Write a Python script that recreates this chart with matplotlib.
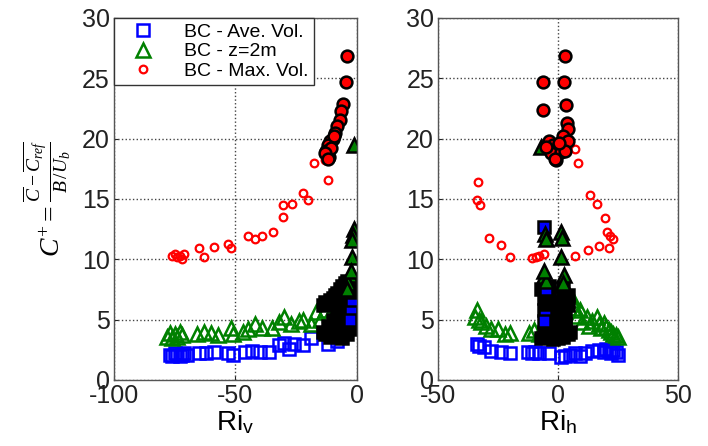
import matplotlib.pyplot as plt

plt.rcParams['font.family'] = ['Liberation Sans', 'DejaVu Sans']
plt.rcParams['axes.unicode_minus'] = False
plt.rcParams['mathtext.fontset'] = 'custom'
plt.rcParams['mathtext.rm'] = 'Liberation Serif'
plt.rcParams['mathtext.it'] = 'Liberation Serif:italic'
plt.rcParams['mathtext.sf'] = 'Liberation Sans'

# ---- Ri_v panel ----
v_ave_x = [-77, -76, -75, -74, -73, -72, -71, -70, -65, -62, -59, -53, -51, -46, -43, -40,
           -36, -32, -30, -28, -26, -22, -19, -12, -8]
v_ave_y = [2.1, 2.0, 2.2, 2.1, 2.0, 2.1, 2.2, 2.1, 2.2, 2.2, 2.3, 2.2, 2.1, 2.3, 2.4, 2.3,
           2.3, 2.9, 3.1, 2.6, 3.0, 2.9, 3.5, 3.0, 3.2]
v_z2_x = [-78, -77, -76, -75, -74, -73, -72, -66, -63, -60, -57, -52, -51, -47, -45, -42,
          -39, -35, -32, -30, -27, -24, -22, -19, -17, -15, -13, -11]
v_z2_y = [3.6, 3.9, 3.5, 3.8, 3.6, 4.0, 3.7, 3.8, 4.0, 3.9, 3.7, 4.3, 3.8, 4.0, 4.2, 4.6,
          4.3, 4.3, 4.8, 5.2, 4.6, 4.9, 5.0, 4.6, 5.6, 5.0, 5.8, 5.5]
v_max_x = [-76, -75, -74, -73, -72, -71, -65, -63, -59, -53, -52, -45, -42, -39, -34.5,
           -30.5, -30.5, -26.5, -22, -20, -17.5, -13, -12, -11, -9, -8, -7, -6]
v_max_y = [10.3, 10.4, 10.2, 10.3, 10.0, 10.4, 10.9, 10.2, 11.0, 11.3, 10.9, 11.9, 11.7,
           11.9, 12.3, 13.5, 14.5, 14.6, 15.5, 14.9, 18.0, 18.2, 16.6, 19.5, 20.3, 21.2,
           22.0, 22.6]
v_max_hx = [-4.2, -4.5, -5.8, -6.5, -7, -8, -9, -10, -11, -12, -12.5, -11.5, -10.5, -9.5,
            -13, -12]
v_max_hy = [26.8, 24.7, 22.9, 22.3, 21.5, 21.0, 20.5, 20.0, 19.8, 19.5, 19.0, 18.5, 19.2,
            20.2, 18.8, 18.3]
v_z2_hx = [-1.2, -1.0, -1.5, -1.8, -2.0, -3, -3.5, -4, -2.5]
v_z2_hy = [19.5, 12.5, 12.0, 11.6, 10.2, 8.7, 8.0, 7.5, 9.0]
v_ave_hx = [-2, -2.5, -3]
v_ave_hy = [6.3, 5.6, 5.0]
v_blk_x = [-14, -13, -12, -11, -10, -9, -8, -7, -6, -5, -4, -3, -2, -1, -14, -12, -10, -8,
           -6, -5, -4, -3, -2, -1, -13, -11, -9, -7, -5, -3, -2, -1, -6, -4]
v_blk_y = [6.2, 6.5, 6.3, 6.6, 6.8, 7.0, 7.2, 7.5, 7.8, 8.0, 8.2, 7.0, 7.5, 8.0, 4.0, 4.5,
           5.0, 5.5, 5.8, 6.0, 6.5, 6.0, 5.5, 6.8, 3.8, 3.6, 4.2, 4.6, 4.8, 4.5, 4.2, 5.0,
           3.5, 3.8]

# ---- Ri_h panel ----
h_ave_x = [-34, -33, -31, -28, -24, -20, -12.5, -11, -9.5, -8, -4, 1, 3, 5, 7, 9, 11, 14,
           17, 19, 20, 21, 22, 23, 24, 25]
h_ave_y = [3.0, 2.8, 2.7, 2.4, 2.3, 2.2, 2.3, 2.2, 2.3, 2.2, 2.2, 1.9, 2.0, 2.1, 2.2, 2.0,
           2.2, 2.4, 2.5, 2.3, 2.6, 2.4, 2.2, 2.5, 2.3, 2.1]
h_z2_x = [-34, -34.5, -33, -32, -30, -28, -25, -22, -20, -12, -10, -8, 6, 7, 8, 9, 10, 12,
          13, 14, 16, 17, 18, 19, 20, 21, 22, 23, 24, 25]
h_z2_y = [5.8, 5.2, 5.0, 4.8, 4.5, 4.2, 4.2, 3.8, 3.9, 3.9, 4.1, 3.8, 6.6, 6.0, 5.3, 5.8,
          4.8, 5.2, 4.5, 4.9, 5.2, 4.6, 4.3, 4.7, 4.4, 4.1, 4.0, 3.8, 3.7, 3.6]
h_max_x = [-33.3, -33.8, -32.5, -29, -24, -20, -10.8, -9.4, -8, -6, 7, 8.3, 7, 12.5, 13.3,
           16.2, 17, 19.6, 20.2, 21.4, 22.6, 21]
h_max_y = [16.4, 14.9, 14.5, 11.8, 11.2, 10.2, 10.1, 10.2, 10.3, 10.4, 19.1, 18.0, 10.3,
           10.8, 15.3, 14.6, 11.1, 13.4, 12.3, 11.9, 11.7, 10.9]
h_max_hx = [3, -6.3, 2.5, -6.3, 3.3, 3.5, 4, -4, -2, 0, 2, 4, -3, -1, 1, 3, -5, -1.5, 0.5]
h_max_hy = [26.8, 24.7, 24.7, 22.4, 22.8, 21.3, 20.8, 19.8, 19.5, 19.3, 20.2, 19.8, 18.8,
            18.2, 18.9, 19.0, 19.3, 18.3, 19.6]
h_z2_hx = [-7, -5.5, -5, 1, 1.5, 1, -6, -5, 2.5, 2, -6]
h_z2_hy = [19.3, 12.1, 11.7, 12.3, 11.8, 10.2, 8.6, 8.2, 8.7, 8.0, 9.0]
h_ave_hx = [-6, -5.5, -6, -5]
h_ave_hy = [12.7, 5.3, 4.9, 7.5]
h_blk_x = [-7, -6, -5, -4, -3, -2, -1, 0, 1, 2, 3, 4, 5, -7, -6, -4, -2, 0, 2, 4, -6, -5,
           -3, -1, 1, 3, -5, -3, 3, 4, -4, 2, 0, -2]
h_blk_y = [3.5, 4.0, 3.6, 4.2, 3.8, 3.4, 3.6, 3.5, 3.9, 3.6, 4.2, 3.8, 4.0, 7.5, 6.8, 7.2,
           6.5, 6.0, 6.8, 7.0, 5.8, 5.2, 6.0, 5.5, 5.0, 5.5, 4.8, 4.5, 4.6, 6.2, 7.8, 7.6,
           4.5, 5.0]

blue, green, red = '#0000ff', '#008000', '#ff0000'


def draw_panel(ax, d):
    ax.plot(d['ave'][0], d['ave'][1], 's', ls='none', ms=8, mfc='none', mec=blue, mew=1.8,
            label='BC - Ave. Vol.')
    ax.plot(d['z2'][0], d['z2'][1], '^', ls='none', ms=10, mfc='none', mec=green, mew=1.8,
            label='BC - z=2m')
    ax.plot(d['max'][0], d['max'][1], 'o', ls='none', ms=5.5, mfc='none', mec=red, mew=1.6,
            label='BC - Max. Vol.')
    # highlighted cases: filled markers with black edge
    ax.plot(d['blk'][0], d['blk'][1], 's', ls='none', ms=8, mfc='k', mec='k', mew=1.8)
    ax.plot(d['ave_h'][0], d['ave_h'][1], 's', ls='none', ms=8, mfc=blue, mec='k', mew=1.8)
    ax.plot(d['z2_h'][0], d['z2_h'][1], '^', ls='none', ms=10, mfc=green, mec='k', mew=1.8)
    ax.plot(d['max_h'][0], d['max_h'][1], 'o', ls='none', ms=8.5, mfc=red, mec='k', mew=1.8)
    ax.set_ylim(0, 30)
    ax.set_yticks(range(0, 31, 5))
    ax.grid(True, ls=':', color='#444444', lw=1.0)
    ax.tick_params(direction='in', length=3, labelsize=18, colors='#222222', pad=3)
    for s in ax.spines.values():
        s.set_color('#555555')
        s.set_linewidth(1.0)


fig = plt.figure(figsize=(7.08, 4.46), dpi=100)
ax1 = fig.add_axes([0.161, 0.148, 0.343, 0.812])
ax2 = fig.add_axes([0.619, 0.148, 0.339, 0.812])

draw_panel(ax1, {'ave': (v_ave_x, v_ave_y), 'z2': (v_z2_x, v_z2_y), 'max': (v_max_x, v_max_y),
                 'ave_h': (v_ave_hx, v_ave_hy), 'z2_h': (v_z2_hx, v_z2_hy),
                 'max_h': (v_max_hx, v_max_hy), 'blk': (v_blk_x, v_blk_y)})
draw_panel(ax2, {'ave': (h_ave_x, h_ave_y), 'z2': (h_z2_x, h_z2_y), 'max': (h_max_x, h_max_y),
                 'ave_h': (h_ave_hx, h_ave_hy), 'z2_h': (h_z2_hx, h_z2_hy),
                 'max_h': (h_max_hx, h_max_hy), 'blk': (h_blk_x, h_blk_y)})

ax1.set_xlim(-100, 0)
ax1.set_xticks([-100, -50, 0])
ax2.set_xlim(-50, 50)
ax2.set_xticks([-50, 0, 50])

ax1.set_xlabel(r'Ri$_\mathsf{v}$', fontsize=20, labelpad=0)
ax2.set_xlabel(r'Ri$_\mathsf{h}$', fontsize=20, labelpad=0)
ax1.set_ylabel(r'$C^{+} = \frac{\overline{C}-\overline{C_{ref}}}{B\,/U_b}$', fontsize=20,
               labelpad=6)

leg = ax1.legend(loc='upper left', fontsize=14, frameon=True, fancybox=False,
                 framealpha=1, edgecolor='#333333', borderaxespad=0, handletextpad=0.9,
                 labelspacing=0.08, borderpad=0.3, handlelength=2.4)
leg.get_frame().set_linewidth(1.0)

fig.savefig('out.png', dpi=100)
